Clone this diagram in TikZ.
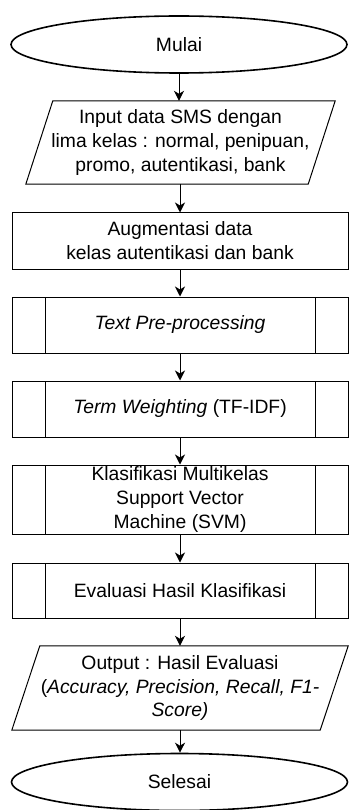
\documentclass[tikz,border=0pt]{standalone}
\usepackage{fontspec}
\setmainfont{Liberation Sans}
\usetikzlibrary{arrows.meta,shapes.geometric}
\begin{document}
\begin{tikzpicture}[x=1pt,y=-1pt,
  every node/.style={font=\fontsize{19.3}{23.8}\selectfont, align=center, inner sep=0pt},
  term/.style={ellipse, draw, line width=1.6pt, minimum width=336pt, minimum height=57pt},
  procbox/.style={rectangle, draw, line width=1pt, minimum width=336pt},
  subproc/.style={procbox, path picture={
      \draw[line width=1pt] ([xshift=33pt]path picture bounding box.north west) -- ([xshift=33pt]path picture bounding box.south west);
      \draw[line width=1pt] ([xshift=-33pt]path picture bounding box.north east) -- ([xshift=-33pt]path picture bounding box.south east);}},
  iobox/.style={rectangle, minimum height=84pt},
  flow/.style={line width=1pt, -{Stealth[width=10pt,length=10pt,inset=3pt]}}
]
\useasboundingbox (0,0) rectangle (349,810);

\node[term] (mulai) at (179,44.5) {Mulai};
\node[iobox, minimum width=282pt, minimum height=83pt] (input) at (180.5,142.5)
  {Input data SMS dengan\\lima kelas : normal, penipuan,\\promo, autentikasi, bank};
\draw[line width=1pt] ([xshift=13.5pt]input.north west) -- ([xshift=13.5pt]input.north east)
  -- ([xshift=-13.5pt]input.south east) -- ([xshift=-13.5pt]input.south west) -- cycle;
\node[procbox, minimum height=56pt] (aug) at (180,241) {Augmentasi data\\kelas autentikasi dan bank};
\node[subproc, minimum height=56pt] (pre) at (180,325) {\textit{Text Pre-processing}};
\node[subproc, minimum height=56pt] (tw) at (180,409) {\textit{Term Weighting} (TF-IDF)};
\node[subproc, minimum height=69pt] (svm) at (180,499.5) {Klasifikasi Multikelas\\Support Vector\\Machine (SVM)};
\node[subproc, minimum height=55pt] (eval) at (180,590.5) {Evaluasi Hasil Klasifikasi};
\node[iobox, minimum width=308pt, minimum height=84pt] (output) at (180,688)
  {Output : Hasil Evaluasi\\(\textit{Accuracy, Precision, Recall, F1-}\\\textit{Score)}};
\draw[line width=1pt] ([xshift=14pt]output.north west) -- ([xshift=14pt]output.north east)
  -- ([xshift=-14pt]output.south east) -- ([xshift=-14pt]output.south west) -- cycle;
\node[term] (selesai) at (179.5,782) {Selesai};

\draw[flow] (mulai.south) -- (input.north -| mulai.south);
\draw[flow] (input.south -| aug.north) -- (aug.north);
\draw[flow] (aug) -- (pre);
\draw[flow] (pre) -- (tw);
\draw[flow] (tw) -- (svm);
\draw[flow] (svm) -- (eval);
\draw[flow] (eval) -- (output);
\draw[flow] (output.south -| eval.south) -- (selesai.north -| eval.south);
\end{tikzpicture}
\end{document}
